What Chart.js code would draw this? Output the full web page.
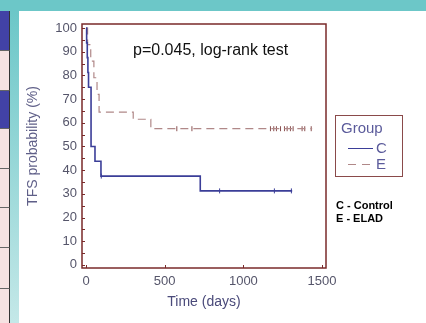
<!DOCTYPE html>
<html><head><meta charset="utf-8">
<script src="https://cdn.jsdelivr.net/npm/chart.js@4"></script>
<style>
html,body{margin:0;padding:0;width:426px;height:323px;overflow:hidden;background:#fff;font-family:"Liberation Sans",Arial,sans-serif;}
#top{position:absolute;left:0;top:0;width:426px;height:11px;background:#6cc7c8;}
#strip{position:absolute;left:9px;top:11px;width:10px;height:312px;background:linear-gradient(#6cc7c8,#c4e8e8);}
.cell{position:absolute;left:0;border-right:1px solid #333;border-bottom:1px solid #666;box-sizing:border-box;width:10px;}
#cv{position:absolute;left:19px;top:11px;}
.txt{position:absolute;white-space:nowrap;}
#pval{left:133px;top:41px;font-size:16px;line-height:18px;color:#111;}
#leg{position:absolute;left:335px;top:115px;width:68px;height:62px;border:1px solid #8a4a4a;box-sizing:border-box;}
.lg{font-size:15px;line-height:16px;color:#5b5b9b;}
.note{font-size:11px;font-weight:bold;line-height:13px;color:#000;left:336px;}
</style>
</head><body>
<div id="top"></div>
<div id="strip"></div>
<div class="cell" style="top:11px;height:40px;background:#4242a6;"></div>
<div class="cell" style="top:51px;height:40px;background:#f6e2e2;"></div>
<div class="cell" style="top:91px;height:38px;background:#4242a6;"></div>
<div class="cell" style="top:129px;height:40px;background:#f6e2e2;"></div>
<div class="cell" style="top:169px;height:39px;background:#f6e2e2;"></div>
<div class="cell" style="top:208px;height:40px;background:#f6e2e2;"></div>
<div class="cell" style="top:248px;height:41px;background:#f6e2e2;"></div>
<div class="cell" style="top:289px;height:34px;background:#f6e2e2;border-bottom:none;"></div>
<canvas id="cv" width="407" height="312"></canvas>
<div class="txt" id="pval">p=0.045, log-rank test</div>
<div id="leg"></div>
<div class="txt lg" style="left:341px;top:120px;">Group</div>
<div style="position:absolute;left:348px;top:148px;width:25px;border-top:1.5px solid #3b3e98;"></div>
<div class="txt lg" style="left:376px;top:140px;">C</div>
<div style="position:absolute;left:348px;top:164px;width:8px;border-top:1px solid #b08888;"></div>
<div style="position:absolute;left:362px;top:164px;width:8px;border-top:1px solid #b08888;"></div>
<div class="txt lg" style="left:376px;top:156px;">E</div>
<div class="txt note" style="top:199px;">C - Control</div>
<div class="txt note" style="top:212px;">E - ELAD</div>
<script>
// ---- data ----
const ctrlTimes = [0, 4, 8, 12, 16, 32, 57, 95, 726, 1310];
const ctrlSurv  = [100, 93.75, 87.5, 81.25, 75, 50, 43.75, 37.5, 31.25, 31.25];
const ctrlCensorTimes = [97, 849, 1197, 1305];
const ctrlCensorSurv  = [37.5, 31.25, 31.25, 31.25];

const eladTimes = [0, 10, 30, 50, 70, 83, 300, 412, 1437];
const eladSurv  = [100, 93, 86, 79, 72, 64.5, 61.5, 57.5, 57.5];
const eladCensorTimes = [577, 673, 1172, 1193, 1210, 1236, 1261, 1278, 1299, 1316, 1373, 1390, 1431];
const eladCensorSurv  = [57.5, 57.5, 57.5, 57.5, 57.5, 57.5, 57.5, 57.5, 57.5, 57.5, 57.5, 57.5, 57.5];

const xTicks = [0, 500, 1000, 1500];
const yTicks = [0, 10, 20, 30, 40, 50, 60, 70, 80, 90, 100];
const yMinorTicks = [5, 15, 25, 35, 45, 55, 65, 75, 85, 95];

const pts = (xs, ys) => xs.map((x, i) => ({x, y: ys[i]}));

const framePlugin = {
  id: 'frame',
  afterDatasetsDraw(chart) {
    const {ctx, chartArea: a, scales: {x, y}} = chart;
    ctx.save();
    ctx.strokeStyle = '#7a2a2a';
    ctx.lineWidth = 1;
    yTicks.concat(yMinorTicks).forEach(v => {
      const py = Math.round(y.getPixelForValue(v)) + 0.5;
      ctx.beginPath(); ctx.moveTo(a.left, py); ctx.lineTo(a.left + 3, py); ctx.stroke();
    });
    xTicks.forEach(v => {
      const px = Math.round(x.getPixelForValue(v)) + 0.5;
      ctx.beginPath(); ctx.moveTo(px, a.bottom); ctx.lineTo(px, a.bottom - 3); ctx.stroke();
    });
    ctx.lineWidth = 1.5;
    ctx.strokeRect(a.left, a.top, a.right - a.left, a.bottom - a.top);
    ctx.restore();
  }
};

const font = {family: '"Liberation Sans", Arial, sans-serif', size: 13};
new Chart(document.getElementById('cv'), {
  type: 'scatter',
  data: {
    datasets: [
      {data: pts(ctrlTimes, ctrlSurv), showLine: true, stepped: 'before', borderColor: '#3b3e98', borderWidth: 1.6, pointRadius: 0, fill: false},
      {data: pts(eladTimes, eladSurv), showLine: true, stepped: 'before', borderColor: '#b08888', borderWidth: 1.2, borderDash: [8, 5], pointRadius: 0, fill: false},
      {data: pts(ctrlCensorTimes, ctrlCensorSurv), showLine: false, pointStyle: 'line', rotation: 90, pointRadius: 2.5, borderColor: '#3b3e98', pointBorderWidth: 1},
      {data: pts(eladCensorTimes, eladCensorSurv), showLine: false, pointStyle: 'line', rotation: 90, pointRadius: 2.5, borderColor: '#8a5050', pointBorderWidth: 1}
    ]
  },
  options: {
    responsive: false,
    animation: false,
    devicePixelRatio: 1,
    layout: {padding: {left: 0, top: 13, right: 100, bottom: 0}},
    plugins: {legend: {display: false}, tooltip: {enabled: false}},
    scales: {
      x: {
        type: 'linear', min: -25.5, max: 1525,
        grid: {display: false, drawTicks: false}, border: {display: false},
        afterBuildTicks: s => { s.ticks = xTicks.map(v => ({value: v})); },
        afterFit: s => { s.height = 55; },
        ticks: {padding: 6, color: '#55556a', font, maxRotation: 0, callback: v => String(v)},
        title: {display: true, text: 'Time (days)', color: '#4a4a7a', font: {family: font.family, size: 14}, padding: {top: 0, bottom: 12.8}}
      },
      y: {
        type: 'linear', min: -1.3, max: 101.7,
        grid: {display: false, drawTicks: false}, border: {display: false},
        afterBuildTicks: s => { s.ticks = yTicks.map(v => ({value: v})); },
        afterFit: s => { s.width = 63; },
        ticks: {padding: 5, color: '#55556a', font, callback: v => String(v)},
        title: {display: true, text: 'TFS probability (%)', color: '#5f5f88', font: {family: font.family, size: 14}, padding: {top: 6, bottom: 0}}
      }
    }
  },
  plugins: [framePlugin]
});
</script>
</body></html>
